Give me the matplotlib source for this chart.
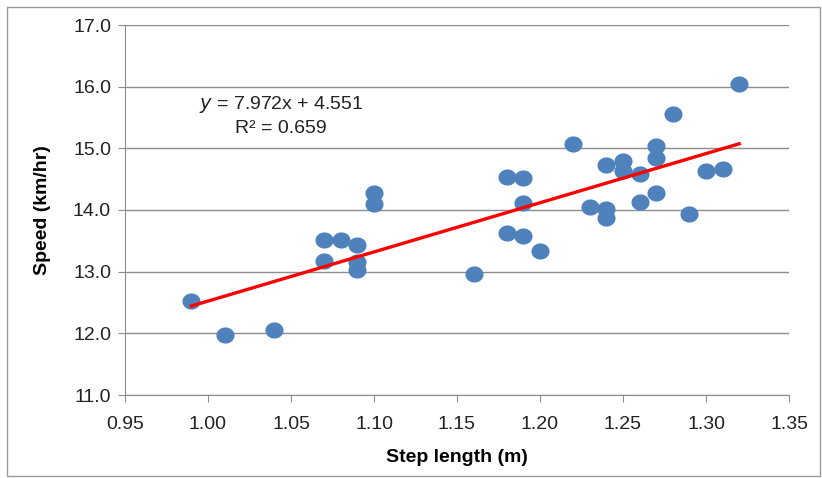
import numpy as np
import matplotlib
matplotlib.use('Agg')
import matplotlib.pyplot as plt
from matplotlib.patches import Rectangle

plt.rcParams['font.family'] = ['Liberation Sans', 'DejaVu Sans']

# step length (m) and speed (km/hr)
step_length = [0.99, 1.01, 1.04, 1.07, 1.07, 1.08, 1.09, 1.09, 1.09, 1.10, 1.10,
               1.16, 1.18, 1.18, 1.19, 1.19, 1.19, 1.20, 1.22, 1.23, 1.24, 1.24,
               1.24, 1.25, 1.25, 1.26, 1.26, 1.27, 1.27, 1.27, 1.28, 1.29, 1.30,
               1.31, 1.32]
speed = [12.53, 11.98, 12.06, 13.51, 13.17, 13.51, 13.44, 13.15, 13.02, 14.28, 14.10,
         12.96, 14.53, 13.63, 14.52, 14.12, 13.58, 13.34, 15.07, 14.05, 14.73, 14.02,
         13.87, 14.79, 14.64, 14.59, 14.13, 15.03, 14.85, 14.27, 15.55, 13.93, 14.63,
         14.67, 16.05]

# trendline as printed on the chart
slope = 7.972
intercept = 4.551
r2 = 0.659

x_ticks = [0.95, 1.00, 1.05, 1.10, 1.15, 1.20, 1.25, 1.30, 1.35]
y_ticks = [11.0, 12.0, 13.0, 14.0, 15.0, 16.0, 17.0]

fig = plt.figure(figsize=(8.22, 4.78), dpi=100)
W, H = 822, 478
ax = fig.add_axes([125 / W, 1 - 395 / H, (789 - 125) / W, (395 - 25) / H])

# outer chart border
fig.patches.append(Rectangle((7 / W, 2 / H), (820 - 7) / W, (471 - 2) / H,
                             transform=fig.transFigure, fill=False,
                             edgecolor='#9a9a9a', linewidth=1.0))

# slightly wide dots, like the stretched original
th = np.linspace(0, 2 * np.pi, 40)
dot = np.column_stack([1.12 * np.cos(th), np.sin(th)])
ax.scatter(step_length, speed, s=170, marker=dot, color='#4F81BD',
           zorder=3, linewidths=0)

xl = np.array([min(step_length), max(step_length)])
ax.plot(xl, slope * xl + intercept, color='red', lw=2.4, zorder=4)

ax.text(0.235, 0.755, '$y$ = %.3fx + %.3f\nR² = %.3f' % (slope, intercept, r2),
        transform=ax.transAxes, ha='center', va='center', fontsize=14,
        linespacing=1.4, color='#222222')

ax.set_xlim(0.95, 1.35)
ax.set_ylim(11.0, 17.0)
ax.set_xticks(x_ticks)
ax.set_xticklabels(['%.2f' % t for t in x_ticks])
ax.set_yticks(y_ticks)
ax.set_yticklabels(['%.1f' % t for t in y_ticks])
ax.yaxis.grid(True, color='#8c8c8c', lw=1.0)
ax.set_axisbelow(True)

for s in ['top', 'right']:
    ax.spines[s].set_visible(False)
for s in ['left', 'bottom']:
    ax.spines[s].set_color('#8c8c8c')
ax.tick_params(axis='both', colors='#8c8c8c', labelcolor='#222222',
               labelsize=14, length=5, direction='out')
ax.tick_params(axis='y', pad=5)
ax.tick_params(axis='x', pad=10)

ax.set_xlabel('Step length (m)', fontsize=14, fontweight='bold', labelpad=12)
ax.set_ylabel('Speed (km/hr)', fontsize=14, fontweight='bold', labelpad=16)

fig.savefig('out.png', dpi=100)
